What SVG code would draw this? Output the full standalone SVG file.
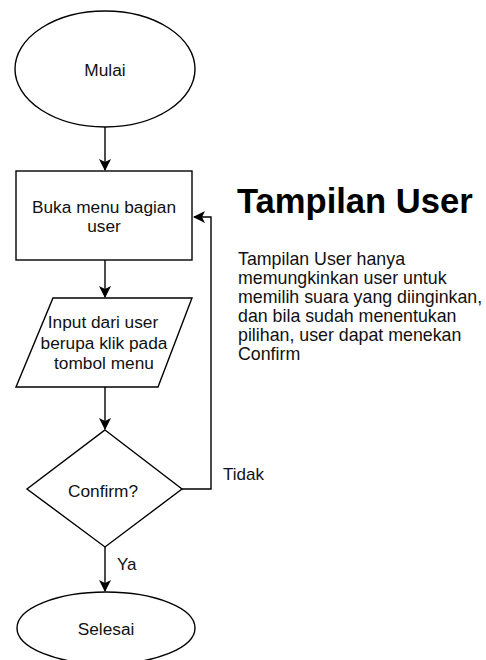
<svg xmlns="http://www.w3.org/2000/svg" width="486" height="660" viewBox="0 0 486 660">
<style>
.shape{fill:#fff;stroke:#000;stroke-width:1.4}
.edge{fill:none;stroke:#000;stroke-width:1.4}
text{font-family:"Liberation Sans",Arial,sans-serif;fill:#111}
.lbl{font-size:17.3px;text-anchor:middle}
.el{font-size:17px}
.title{font-size:34.6px;font-weight:bold;fill:#000}
.para{font-size:17.8px}
</style>
<defs>
<marker id="arr" markerWidth="12" markerHeight="12" viewBox="0 0 12 12" refX="11" refY="6" orient="auto" markerUnits="userSpaceOnUse">
<path d="M0,0 L12,6 L0,12 L3,6 z" fill="#000"/>
</marker>
</defs>
<rect width="486" height="660" fill="#fff"/>
<g id="connectors">
<line class="edge" x1="105" y1="127" x2="105" y2="170" marker-end="url(#arr)"/>
<line class="edge" x1="105" y1="260" x2="105" y2="297" marker-end="url(#arr)"/>
<line class="edge" x1="105" y1="387" x2="105" y2="429" marker-end="url(#arr)"/>
<line class="edge" x1="105" y1="547" x2="105" y2="591" marker-end="url(#arr)"/>
<polyline class="edge" points="182,489 211,489 211,217 194,217" marker-end="url(#arr)"/>
<text class="el" x="117" y="570">Ya</text>
<text class="el" x="223" y="480">Tidak</text>
</g>
<g id="mulai">
<ellipse class="shape" cx="105" cy="69" rx="90" ry="58"/>
<text class="lbl" x="105" y="76">Mulai</text>
</g>
<g id="buka">
<rect class="shape" x="16" y="171" width="176" height="89"/>
<text class="lbl" x="104" y="213">Buka menu bagian</text>
<text class="lbl" x="104" y="232">user</text>
</g>
<g id="input">
<polygon class="shape" points="53,298 192,298 158,387 16,387"/>
<text class="lbl" x="103" y="328">Input dari user</text>
<text class="lbl" x="104" y="349">berupa klik pada</text>
<text class="lbl" x="104" y="369">tombol menu</text>
</g>
<g id="confirm">
<polygon class="shape" points="105,430 182,489 105,547 27,489"/>
<text class="lbl" x="103" y="497">Confirm?</text>
</g>
<g id="selesai">
<ellipse class="shape" cx="106" cy="628" rx="89" ry="36"/>
<text class="lbl" x="106" y="635">Selesai</text>
</g>
<g id="note">
<text class="title" x="237" y="213">Tampilan User</text>
<text class="para" x="238" y="265">Tampilan User hanya</text>
<text class="para" x="238" y="284">memungkinkan user untuk</text>
<text class="para" x="238" y="303">memilih suara yang diinginkan,</text>
<text class="para" x="238" y="322">dan bila sudah menentukan</text>
<text class="para" x="238" y="341">pilihan, user dapat menekan</text>
<text class="para" x="238" y="360">Confirm</text>
</g>
</svg>
